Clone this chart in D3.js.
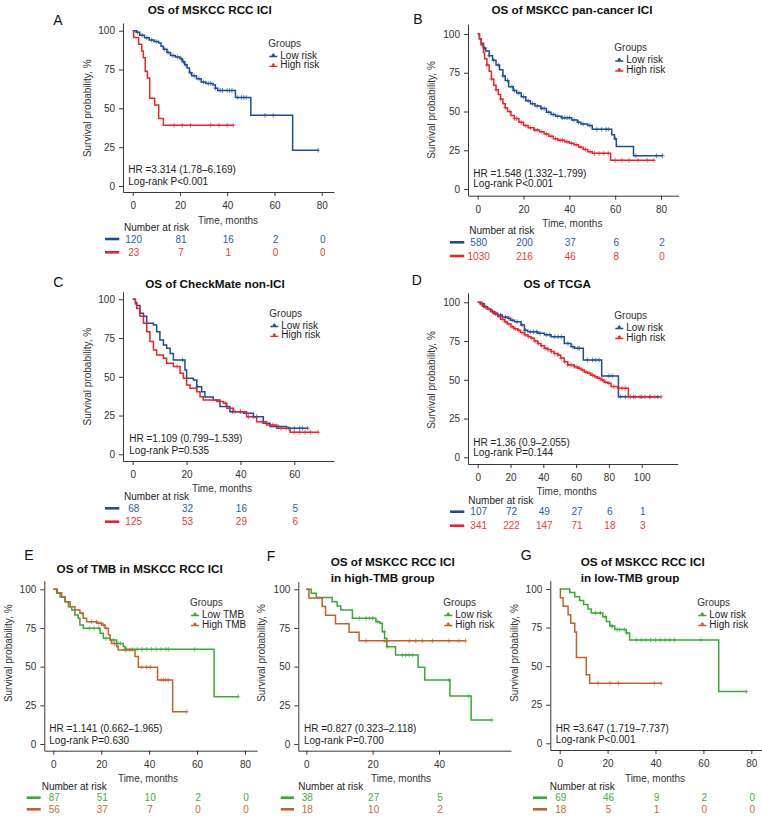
<!DOCTYPE html>
<html><head><meta charset="utf-8">
<script src="https://cdn.jsdelivr.net/npm/d3@7"></script>
<style>
body{margin:0;background:#fff;}
svg text{font-family:'Liberation Sans',Arial,Helvetica,sans-serif;}
</style></head>
<body><svg id="c" width="762" height="819"></svg>
<script>
// ---------------- DATA ----------------
const yTicks = [0,25,50,75,100];
const riskGroups = ["Low risk","High risk"];
const tmbGroups = ["Low TMB","High TMB"];

// Panel A: OS of MSKCC RCC ICI
const A_ticks = [0,20,40,60,80];
const A_low = [[0,100],[1.5,99],[3,97],[5,95.5],[7,94],[9,93],[11,92],[12,90],[13,88],[14.5,86],[16,84],[18,83],[20,82],[21,80],[22,78],[23,76],[24,73],[25,71],[27,69],[29,67],[31,66],[34,65],[35,63],[36,61.5],[43.5,57],[50,45.5],[67.7,23],[78.5,23]];
const A_high = [[0,100],[0.4,95.7],[2.5,91.3],[3.8,87],[4.5,82.6],[5.3,73.9],[6.2,69.6],[7.2,56.5],[9.3,52.2],[11,43.5],[13,39.1],[42.6,39.1]];
const A_lowCens = [2,4,6,8,10,13.5,15,17,19,20.5,21.5,22.5,24.5,26,28,30,32,33,35,37,38,40,41,42,44.5,46,47,48,56,59.5,78.5];
const A_highCens = [17.5,21,24.5,33,36.5,40,42.6];
const A_riskLow = [120,81,16,2,0];
const A_riskHigh = [23,7,1,0,0];

// Panel B: OS of MSKCC pan-cancer ICI
const B_ticks = [0,20,40,60,80];
const B_low = [[0,100],[0.8,97],[1.5,94],[2.5,91],[3.5,89],[5,86],[6.5,83],[8,80],[9.5,77],[11,73],[12,70],[13.5,66],[15.5,63.5],[17,62],[19,59.5],[21,57],[23,55],[25,53.5],[27.5,52],[30,49.5],[32,48],[34,47],[36.5,46],[41,44.5],[43.5,43],[45,42],[48,41],[50,38.5],[58.5,35],[59.7,32.5],[60.5,27.5],[68,21.5],[80.7,21.5]];
const B_high = [[0,100],[0.7,97],[1.5,93],[2.5,88],[3,84],[4,80],[5,76],[6,71],[7,67],[8,64],[9,61],[10,58],[11,55],[12,52.5],[13,50],[14.5,47.5],[16,45.5],[18,43],[20,41],[22,39.5],[24.5,38],[27,37],[29,35.5],[31,34],[33,32.5],[35,31.5],[38,30.5],[40,29.5],[42,28.5],[44,27],[46,25.5],[48,24],[50,23],[58,18.5],[77,18.5]];
const B_lowCens = [3,5,7,9,11,13,15,16,18,20,22,24,26,28,29,31,33,35,37,38,39,40,42,44,46,49,52,54,56,57,60,69,78,80.7];
const B_highCens = [2,4,6,8,10,12,14,16,17,19,21,23,25,26,28,30,32,34,36,37,39,41,43,45,47,49,51,53,55,57,60,63,66,70,74,77];
const B_riskLow = [580,200,37,6,2];
const B_riskHigh = [1030,216,46,8,0];

// Panel C: OS of CheckMate non-ICI
const C_ticks = [0,20,40,60];
const C_low = [[0,100],[1,98],[1.5,96],[2.7,91],[4,89],[5.2,84.5],[7.7,83.4],[8.9,79],[10.1,73.8],[11.4,70.5],[12.6,68.4],[13.9,65],[15.1,60.9],[19.4,54.4],[20,49],[22.5,48],[23.8,43.6],[25.6,40.4],[26.8,37],[29.9,35],[32.4,30.8],[36.1,27.5],[41.1,26.5],[44.8,24.3],[48.5,20],[51,18],[57.2,16.8],[65,16.8]];
const C_high = [[0,100],[1,97],[1.5,94],[2.7,89],[4,84.5],[5.2,79],[6.4,72.7],[7.7,67.3],[8.9,64],[11.4,62],[12.6,58.7],[15.1,56.6],[17.6,52.3],[18.8,49],[20,44.7],[21.3,42.6],[23.8,40.4],[25,37.2],[26.2,35],[31.2,34],[33.7,32.9],[34.9,29.7],[37.4,27.5],[42.3,24.3],[46,21],[49.7,18.9],[53.4,16.8],[58.4,14.2],[68.9,14.2]];
const C_lowCens = [18.5,24,37,40,45,46,54,58,60,62,63,65];
const C_highCens = [16.5,34.5,38,40,43,48,52,55,57,60,62,64,66,68.9];
const C_riskLow = [68,32,16,5];
const C_riskHigh = [125,53,29,6];

// Panel D: OS of TCGA
const D_ticks = [0,20,40,60,80,100];
const D_low = [[0,100],[2,99],[4,97],[6,95.5],[8,94],[10,93],[12.2,91.8],[15,90.5],[18.3,89.7],[20,88.5],[22.4,87.5],[26.4,85.4],[28.5,82],[30.5,81],[36.6,80],[40.7,79],[44.7,77.8],[52.8,73.5],[56.9,71.4],[59,70.3],[64.4,62.8],[75.6,52.5],[85.8,39],[109.8,39]];
const D_high = [[0,100],[1.5,99],[3,97.5],[4,96.8],[6,95.5],[8,94],[10,92.5],[12.2,90.8],[14,89],[16.3,87.5],[18,86],[20.3,84.3],[22,83],[24.4,82],[26,80.5],[28.5,79],[30.5,78],[32.5,76.8],[34.5,75],[36.6,73.5],[38.5,72],[40.7,70.3],[42.5,69.5],[44.7,68.2],[46.5,67],[48.8,66],[50.5,64],[52.8,61.7],[54.9,59.6],[58.9,58.5],[61,57.5],[63,56.3],[65,55],[67.1,54.2],[69,53],[71.1,52],[73,51],[75.2,49.9],[77,48.5],[79.3,47.7],[81.3,45.6],[85.4,44.5],[91.9,39],[111.8,39]];
const D_lowCens = [3,5,9,11,14,17,19,21,24,27,29,32,34,36,38,42,44,47,49,51,55,58,61,62,67,70,72,74,80,82,87,90,95,100,105,109.8];
const D_highCens = [2,3.5,5,7,9,11,13,15,17,19,21,23,25,27,29,31,33,35,37,39,41,43,45,47,49,51,53,55,57,59,60,62,64,66,68,70,72,74,76,78,80,83,86,88,90,93,96,99,102,105,108,111.8];
const D_riskLow = [107,72,49,27,6,1];
const D_riskHigh = [341,222,147,71,18,3];

// Panel E: OS of TMB in MSKCC RCC ICI
const E_ticks = [0,20,40,60,80];
const E_low = [[0,100],[1.4,97.4],[2.8,95],[4.9,92],[6.3,88.8],[7.7,86.6],[9,83.4],[10.4,81.3],[11.1,77],[12.5,74.8],[19.5,71.6],[20.9,68.3],[23.7,67.2],[26.4,65],[29.2,63],[29.9,61.2],[67.1,30.6],[77.2,30.6]];
const E_high = [[0,100],[1.7,97.8],[3.5,95],[4.9,92],[7,88.8],[9,86.6],[11.1,84.5],[12.5,81.3],[13.9,79],[18.1,78],[20.2,77],[21.6,74.8],[23,70.5],[23.7,67.2],[24.3,65],[26.4,63],[27.1,60.8],[34.1,56.5],[35.5,49.6],[43.5,41.4],[49.8,20.9],[55.7,20.9]];
const E_lowCens = [15,17,19,22,25,27,28,30.5,33,35,37,39,41,43,45,47,48,59,77.2];
const E_highCens = [12,16,18,19,20,21,22,25.5,30,32,37,39,40.5,45,46,47,48,55.7];
const E_riskLow = [87,51,10,2,0];
const E_riskHigh = [56,37,7,0,0];

// Panel F: high-TMB group
const F_ticks = [0,20,40];
const F_low = [[0,100],[1.5,97.4],[3,94.7],[7.8,92],[9.3,89.2],[10.4,86.6],[13.9,81.3],[21,79],[22.2,78],[22.9,72.6],[23.6,68.3],[24.2,62.9],[26.9,57.5],[33.7,49.6],[35.7,41.4],[43.3,31],[49.7,15.5],[55.9,15.5]];
const F_high = [[0,100],[0.8,94.4],[4.8,88.9],[5.8,83.3],[8.8,77.8],[12.9,72.2],[15.9,66.7],[48,66.7]];
const F_lowCens = [16,18,19,20,21.5,23.5,24.5,29,30,31,32,43,49,55.9];
const F_highCens = [18,23.5,24.5,31,33,35,38,43,46,48];
const F_riskLow = [38,27,5];
const F_riskHigh = [18,10,2];

// Panel G: low-TMB group
const G_ticks = [0,20,40,60,80];
const G_low = [[0,100],[4.2,97.8],[6.3,95],[8.3,92.6],[10,90],[11.8,87],[13.2,84.5],[18,82],[19.5,79],[20.9,76],[23,73.8],[27.8,71.5],[29.2,67],[66.4,33.5],[77.9,33.5]];
const G_high = [[0,100],[0.3,94.4],[1.4,88.9],[3.5,83.3],[4.6,77.8],[6.3,72.2],[7,55.6],[11.1,44.4],[12.5,38.9],[42.4,38.9]];
const G_lowCens = [15,17,19,21.5,22,24,25,27,28,32,34,36,38,40,42,44,46,48,59,77.9];
const G_highCens = [16,21,24.5,39.5,42.4];
const G_riskLow = [69,46,9,2,0];
const G_riskHigh = [18,5,1,0,0];

const titles = {
  A:["OS of MSKCC RCC ICI"], B:["OS of MSKCC pan-cancer ICI"], C:["OS of CheckMate non-ICI"],
  D:["OS of TCGA"], E:["OS of TMB in MSKCC RCC ICI"],
  F:["OS of MSKCC RCC ICI","in high-TMB group"], G:["OS of MSKCC RCC ICI","in low-TMB group"]
};
const stats = {
  A:["HR =3.314 (1.78–6.169)","Log-rank P<0.001"],
  B:["HR =1.548 (1.332–1.799)","Log-rank P<0.001"],
  C:["HR =1.109 (0.799–1.539)","Log-rank P=0.535"],
  D:["HR =1.36 (0.9–2.055)","Log-rank P=0.144"],
  E:["HR =1.141 (0.662–1.965)","Log-rank P=0.630"],
  F:["HR =0.827 (0.323–2.118)","Log-rank P=0.700"],
  G:["HR =3.647 (1.719–7.737)","Log-rank P<0.001"]
};

// ---------------- STYLE / LAYOUT ----------------
const BR = {line:["#1f4c97","#e5262b"], text:["#2b5ea9","#ec3b36"]};
const GO = {line:["#3aa93a","#c0612f"], text:["#46ae46","#c86a3a"]};

const layouts = {
 A:{x0:132.7,xRef:80,xRefPx:321.7,y100:30.7,y0:186,axL:123,axR:334,axT:23,axB:192,titleX:209.7,titleY:[10],titleAnchor:"middle",letterX:53.3,letterY:25,timeX:228,timeY:220,narX:124,narY:227.3,riskY:[239,252.3],riskLine:[105,119.3],legX:268.3,legY:[43.3,55,64.8],hrX:128.3,hrY:[169.3,181.7],ylabX:87.3,ylabY:108.3},
 B:{x0:477.7,xRef:80,xRefPx:661,y100:34,y0:189,axL:468,axR:678.7,axT:24,axB:195.7,titleX:572,titleY:[10],titleAnchor:"middle",letterX:413.3,letterY:24,timeX:572.3,timeY:223.3,narX:469.3,narY:230.7,riskY:[242.3,256],riskLine:[450,464.3],legX:614.3,legY:[47.7,59.5,69.5],hrX:473.3,hrY:[173.3,183.7],ylabX:431,ylabY:110},
 C:{x0:132.7,xRef:60,xRefPx:294.3,y100:299.3,y0:454.3,axL:123,axR:334,axT:291.7,axB:461,titleX:215,titleY:[284],titleAnchor:"middle",letterX:53.3,letterY:286.7,timeX:222,timeY:488.3,narX:124,narY:496.7,riskY:[508.3,521.7],riskLine:[105,119.3],legX:269.3,legY:[313.3,325,334.8],hrX:129.3,hrY:[438.3,450.7],ylabX:87.3,ylabY:376.7},
 D:{x0:477.7,xRef:100,xRefPx:641.7,y100:302.3,y0:457.3,axL:468,axR:677.7,axT:292.7,axB:464,titleX:557.3,titleY:[284],titleAnchor:"middle",letterX:411.7,letterY:285,timeX:566.7,timeY:491.7,narX:468.3,narY:500,riskY:[511.7,525.7],riskLine:[450,464.3],legX:614.3,legY:[315,327,337],hrX:473.3,hrY:[442.3,452.7],ylabX:431,ylabY:380},
 E:{x0:53.3,xRef:80,xRefPx:245,y100:589.3,y0:744,axL:44.3,axR:257,axT:580.7,axB:750.7,titleX:139.7,titleY:[569.3],titleAnchor:"middle",letterX:24.3,letterY:560,timeX:148,timeY:778.3,narX:41.7,narY:786,riskY:[797.7,809.3],riskLine:[26.7,40.7],legX:190,legY:[602.7,614,624],hrX:49.3,hrY:[728.3,740],ylabX:8.3,ylabY:653.3},
 F:{x0:306.3,xRef:40,xRefPx:439,y100:589.3,y0:744,axL:298.3,axR:511,axT:581.7,axB:750.7,titleX:330.7,titleY:[561.7,578.3],titleAnchor:"start",letterX:266.7,letterY:560.7,timeX:401,timeY:778.3,narX:298.3,narY:786,riskY:[797.7,809.3],riskLine:[280.7,294],legX:443.3,legY:[602.7,614,624],hrX:304,hrY:[728.3,740],ylabX:261.3,ylabY:653},
 G:{x0:559.7,xRef:80,xRefPx:751.3,y100:589,y0:743.3,axL:550.3,axR:765,axT:580.7,axB:750,titleX:580.7,titleY:[561.7,578.3],titleAnchor:"start",letterX:520.7,letterY:560,timeX:655,timeY:778.3,narX:549.7,narY:786,riskY:[797.7,809.3],riskLine:[533,547],legX:697.3,legY:[602.7,614,624],hrX:555.7,hrY:[728.3,739.3],ylabX:514.7,ylabY:653}
};

const panels = [
 {id:"A",ticks:A_ticks,curves:[A_low,A_high],cens:[A_lowCens,A_highCens],risk:[A_riskLow,A_riskHigh],groups:riskGroups,col:BR},
 {id:"B",ticks:B_ticks,curves:[B_low,B_high],cens:[B_lowCens,B_highCens],risk:[B_riskLow,B_riskHigh],groups:riskGroups,col:BR},
 {id:"C",ticks:C_ticks,curves:[C_low,C_high],cens:[C_lowCens,C_highCens],risk:[C_riskLow,C_riskHigh],groups:riskGroups,col:BR},
 {id:"D",ticks:D_ticks,curves:[D_low,D_high],cens:[D_lowCens,D_highCens],risk:[D_riskLow,D_riskHigh],groups:riskGroups,col:BR},
 {id:"E",ticks:E_ticks,curves:[E_low,E_high],cens:[E_lowCens,E_highCens],risk:[E_riskLow,E_riskHigh],groups:tmbGroups,col:GO},
 {id:"F",ticks:F_ticks,curves:[F_low,F_high],cens:[F_lowCens,F_highCens],risk:[F_riskLow,F_riskHigh],groups:riskGroups,col:GO},
 {id:"G",ticks:G_ticks,curves:[G_low,G_high],cens:[G_lowCens,G_highCens],risk:[G_riskLow,G_riskHigh],groups:riskGroups,col:GO}
];

const svg = d3.select("#c");
const FS = 10;

function survAt(curve, t){
  let s = curve[0][1];
  for (const p of curve){ if (p[0] <= t) s = p[1]; else break; }
  return s;
}

function drawPanel(P){
  const L = layouts[P.id];
  const g = svg.append("g");
  const x = d3.scaleLinear().domain([0, L.xRef]).range([L.x0, L.xRefPx]);
  const y = d3.scaleLinear().domain([0, 100]).range([L.y0, L.y100]);
  const xa = d3.scaleLinear().domain([x.invert(L.axL), x.invert(L.axR)]).range([L.axL, L.axR]);
  const ya = d3.scaleLinear().domain([y.invert(L.axB), y.invert(L.axT)]).range([L.axB, L.axT]);

  const gx = g.append("g").attr("transform",`translate(0,${L.axB})`)
    .call(d3.axisBottom(xa).tickValues(P.ticks).tickSize(4).tickPadding(6).tickSizeOuter(0).tickFormat(d3.format("d")));
  const gy = g.append("g").attr("transform",`translate(${L.axL},0)`)
    .call(d3.axisLeft(ya).tickValues(yTicks).tickSize(4).tickPadding(4).tickSizeOuter(0).tickFormat(d3.format("d")));
  [gx,gy].forEach(a=>{
    a.select(".domain").attr("stroke","#222").attr("stroke-width",0.9);
    a.selectAll(".tick line").attr("stroke","#222").attr("stroke-width",0.9);
    a.selectAll(".tick text").attr("font-size",FS).attr("fill","#333").attr("font-family","'Liberation Sans',Arial,sans-serif");
  });

  // curves
  const line = d3.line().x(d=>x(d[0])).y(d=>y(d[1])).curve(d3.curveStepAfter);
  P.curves.forEach((c,i)=>{
    g.append("path").attr("d",line(c)).attr("fill","none")
      .attr("stroke",P.col.line[i]).attr("stroke-width",1.5);
  });
  // censor marks
  P.cens.forEach((cs,i)=>{
    cs.forEach(t=>{
      const cx = x(t), cy = y(survAt(P.curves[i], t));
      g.append("path").attr("d",`M${cx-2},${cy}H${cx+2}M${cx},${cy-2.3}V${cy+2.3}`)
        .attr("stroke",P.col.line[i]).attr("stroke-width",0.9).attr("opacity",0.75);
    });
  });

  // title
  const tt = titles[P.id];
  tt.forEach((s,k)=>{
    g.append("text").attr("x",L.titleX).attr("y",L.titleY[k]).attr("dy","0.35em")
      .attr("text-anchor",L.titleAnchor).attr("font-weight","bold").attr("font-size",11.7).attr("fill","#111").text(s);
  });
  // letter
  g.append("text").attr("x",L.letterX).attr("y",L.letterY).attr("font-size",14).attr("fill","#111").text(P.id);
  // y label
  g.append("text").attr("transform",`translate(${L.ylabX},${L.ylabY}) rotate(-90)`).attr("dy","0.35em")
    .attr("text-anchor","middle").attr("font-size",FS).attr("fill","#333").text("Survival probability, %");
  // x label
  g.append("text").attr("x",L.timeX).attr("y",L.timeY).attr("dy","0.35em").attr("text-anchor","middle")
    .attr("font-size",FS).attr("fill","#333").text("Time, months");
  // stats
  stats[P.id].forEach((s,k)=>{
    g.append("text").attr("x",L.hrX).attr("y",L.hrY[k]).attr("dy","0.35em")
      .attr("font-size",FS).attr("fill","#222").text(s);
  });
  // legend
  g.append("text").attr("x",L.legX).attr("y",L.legY[0]).attr("dy","0.35em").attr("font-size",FS).attr("fill","#333").text("Groups");
  P.groups.forEach((gname,i)=>{
    const ly = L.legY[i+1];
    g.append("path").attr("d",`M${L.legX+1},${ly+1.5}H${L.legX+9}M${L.legX+5},${ly-1.5}V${ly+1.5}M${L.legX+3.5},${ly}H${L.legX+6.5}`)
      .attr("stroke",P.col.line[i]).attr("stroke-width",1.3).attr("fill","none");
    g.append("text").attr("x",L.legX+12).attr("y",ly).attr("dy","0.35em").attr("font-size",FS).attr("fill","#222").text(gname);
  });
  // number at risk
  g.append("text").attr("x",L.narX).attr("y",L.narY).attr("dy","0.35em").attr("font-size",FS).attr("fill","#222").text("Number at risk");
  P.risk.forEach((row,i)=>{
    const ry = L.riskY[i];
    g.append("line").attr("x1",L.riskLine[0]).attr("x2",L.riskLine[1]).attr("y1",ry).attr("y2",ry)
      .attr("stroke",P.col.line[i]).attr("stroke-width",2.6);
    row.forEach((v,j)=>{
      g.append("text").attr("x",x(P.ticks[j])+1).attr("y",ry).attr("dy","0.35em").attr("text-anchor","middle")
        .attr("font-size",FS).attr("fill",P.col.text[i]).text(v);
    });
  });
}

panels.forEach(drawPanel);
</script>
</body></html>
